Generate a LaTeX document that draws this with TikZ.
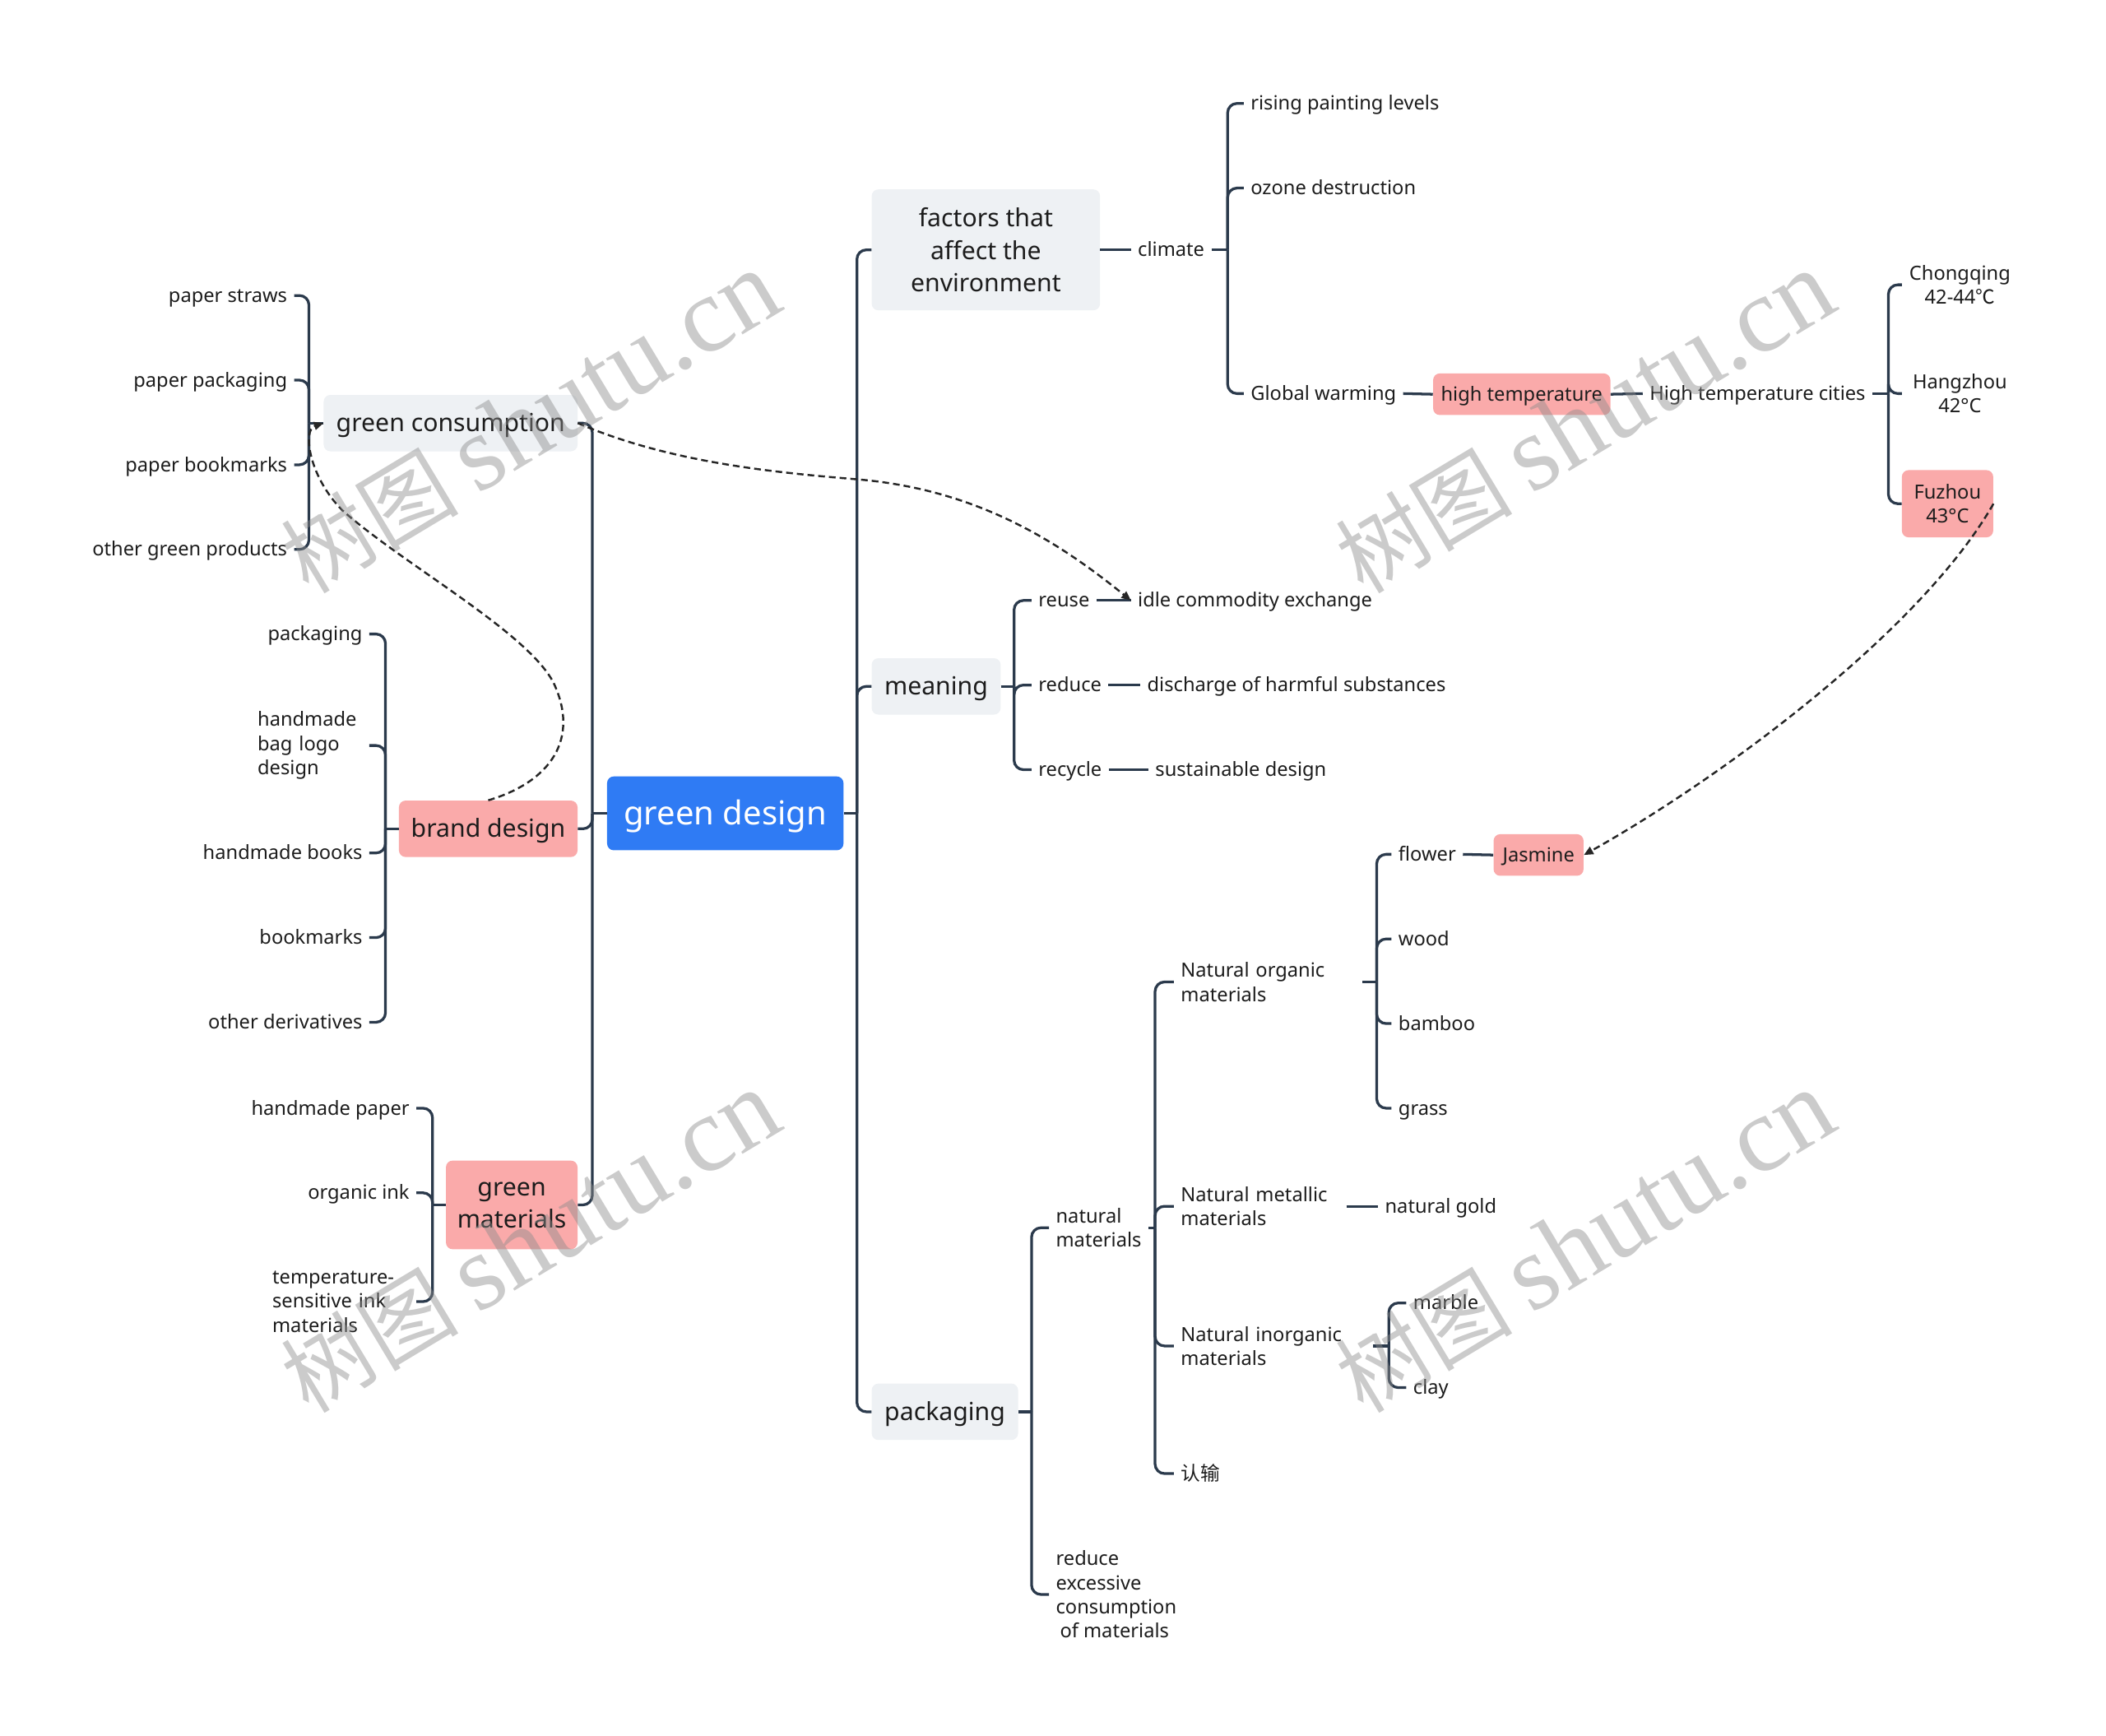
\documentclass[tikz,border=0pt]{standalone}
\usepackage{fontspec}
\setmainfont{Noto Sans}
\newfontfamily\cjk{Noto Sans CJK SC}
\newfontfamily\wmfont{Liberation Serif}
\usetikzlibrary{arrows.meta}
\definecolor{ln}{HTML}{2B3A4C}
\definecolor{txt}{HTML}{1C1C1C}
\definecolor{gbox}{HTML}{EEF1F4}
\definecolor{pbox}{HTML}{FAAAAA}
\definecolor{bbox}{HTML}{2F7BF4}
\definecolor{wm}{HTML}{8C8C8C}
\begin{document}
\begin{tikzpicture}[x=1pt,y=-1pt,
  every node/.style={text=txt},
  lbl/.style={inner xsep=5pt, inner ysep=2pt, font=\fontsize{14.5}{18}\selectfont, text height=12pt, text depth=2pt},
  mlbl/.style={inner xsep=5pt, inner ysep=2pt, font=\fontsize{14.5}{18}\selectfont, align=left},
  clbl/.style={inner xsep=5pt, inner ysep=2pt, font=\fontsize{14.5}{18}\selectfont, align=center, text width=76pt},
  bigbox/.style={rounded corners=5pt, inner sep=0pt, font=\fontsize{18.5}{24}\selectfont},
  graybox/.style={bigbox, fill=gbox},
  pinkbox/.style={bigbox, fill=pbox},
  onebox/.style={text height=15.5pt, text depth=2.5pt},
  smallpink/.style={rounded corners=5pt, fill=pbox, inner sep=0pt, font=\fontsize{14.5}{18}\selectfont},
  conn/.style={draw=ln, line width=2pt, rounded corners=7pt},
  rel/.style={draw=black!85, line width=1.5pt, dash pattern=on 5pt off 3pt, -{Triangle[length=7pt,width=6pt]}},
  wmark/.style={text=wm, text opacity=0.45, rotate=31, inner sep=0pt}
]
\fill[white] (0,0) rectangle (1568,1292);
\useasboundingbox (0,0) rectangle (1568,1292);

% ---------- main boxes
\node[bigbox, fill=bbox, minimum width=176pt, minimum height=55pt, font=\fontsize{24.5}{28}\selectfont, text=white, text height=20pt, text depth=2.8pt] (gd) at (540,605.5) {green design};
\node[graybox, onebox, minimum width=189pt, minimum height=42pt] (gc) at (335.5,315) {green consumption};
\node[pinkbox, onebox, minimum width=133pt, minimum height=42pt] (bd) at (363.5,617) {brand design};
\node[pinkbox, align=center, minimum width=98pt, minimum height=66pt] (gm) at (381,897) {green\\materials};
\node[graybox, align=center, minimum width=170pt, minimum height=90pt] (fac) at (734,186) {factors that\\affect the\\environment};
\node[graybox, onebox, minimum width=96pt, minimum height=42pt] (mea) at (697,511) {meaning};
\node[graybox, onebox, minimum width=109pt, minimum height=42pt] (pkg) at (703.5,1051) {packaging};

% ---------- left children
\node[lbl, anchor=east] (ps) at (219,220) {paper straws};
\node[lbl, anchor=east] (pp) at (219,283) {paper packaging};
\node[lbl, anchor=east] (pb) at (219,346) {paper bookmarks};
\node[lbl, anchor=east] (ogp) at (219,409) {other green products};
\node[lbl, anchor=east] (pk) at (275,472) {packaging};
\node[mlbl, anchor=east, text width=78pt] (hbl) at (275,555) {handmade\\bag logo\\design};
\node[lbl, anchor=east] (hb) at (275,635) {handmade books};
\node[lbl, anchor=east] (bm) at (275,698) {bookmarks};
\node[lbl, anchor=east] (od) at (275,761) {other derivatives};
\node[lbl, anchor=east] (hp) at (310,825) {handmade paper};
\node[lbl, anchor=east] (oi) at (310,888) {organic ink};
\node[mlbl, anchor=east, text width=102pt] (tsi) at (310,969) {temperature-\\sensitive ink\\materials};

% ---------- factors
\node[lbl, anchor=west] (cl) at (842,186) {climate};
\node[lbl, anchor=west] (rpl) at (926,77) {rising painting levels};
\node[lbl, anchor=west] (oz) at (926,140) {ozone destruction};
\node[lbl, anchor=west] (gw) at (926,293) {Global warming};
\node[smallpink, minimum width=132pt, minimum height=31pt, text height=12pt, text depth=2pt] (ht) at (1133,293.5) {high temperature};
\node[lbl, anchor=west] (htc) at (1223,293) {High temperature cities};
\node[clbl, anchor=west] (cq) at (1416,212) {Chongqing\\42-44{\cjk ℃}};
\node[clbl, anchor=west] (hz) at (1416,293) {Hangzhou\\42°C};
\node[smallpink, align=center, minimum width=68pt, minimum height=50pt] (fz) at (1450,375) {Fuzhou\\43°C};

% ---------- meaning
\node[lbl, anchor=west] (reu) at (768,447) {reuse};
\node[lbl, anchor=west] (ice) at (842,447) {idle commodity exchange};
\node[lbl, anchor=west] (red) at (768,510) {reduce};
\node[lbl, anchor=west] (dhs) at (849,510) {discharge of harmful substances};
\node[lbl, anchor=west] (rec) at (768,573) {recycle};
\node[lbl, anchor=west] (sd) at (855,573) {sustainable design};

% ---------- packaging
\node[mlbl, anchor=west] (nm) at (781,914) {natural\\materials};
\node[mlbl, anchor=west] (rex) at (781,1187) {reduce\\excessive\\consumption\\\hspace*{3pt}of materials};
\node[mlbl, anchor=west, text width=130pt] (nom) at (874,731) {Natural organic\\materials};
\node[mlbl, anchor=west, text width=118pt] (nmm) at (874,898) {Natural metallic\\materials};
\node[mlbl, anchor=west, text width=138pt] (nim) at (874,1002) {Natural inorganic\\materials};
\node[lbl, anchor=west, font=\cjk\fontsize{14.5}{18}\selectfont] (rs) at (874,1097) {认输};
\node[lbl, anchor=west] (fl) at (1036,636) {flower};
\node[smallpink, minimum width=67pt, minimum height=31pt, text height=12pt, text depth=2pt] (jas) at (1145.5,636.5) {Jasmine};
\node[lbl, anchor=west] (wd) at (1036,699) {wood};
\node[lbl, anchor=west] (bb) at (1036,762) {bamboo};
\node[lbl, anchor=west] (gr) at (1036,825) {grass};
\node[lbl, anchor=west] (ng) at (1026,898) {natural gold};
\node[lbl, anchor=west] (mb) at (1047,970) {marble};
\node[lbl, anchor=west] (cy) at (1047,1033) {clay};

% ---------- junctions
\coordinate (jL) at (441,605.5);
\coordinate (jR) at (638,605.5);
\coordinate (jgc) at (230,315);
\coordinate (jbd) at (287,617);
\coordinate (jgm) at (322,897);
\coordinate (jcl) at (914,186);
\coordinate (jhtc) at (1406,293);
\coordinate (jme) at (755,511);
\coordinate (jpk) at (768,1051);
\coordinate (jnm) at (860,914);
\coordinate (jnom) at (1025,731);
\coordinate (jnim) at (1034,1002);

% ---------- connectors
\draw[conn] (gd.west) -- (jL);
\foreach \n in {gc,bd,gm} \draw[conn] (jL) |- (\n.east);
\draw[conn] (gd.east) -- (jR);
\foreach \n in {fac,mea,pkg} \draw[conn] (jR) |- (\n.west);

\draw[conn] (gc.west) -- (jgc);
\foreach \n in {ps,pp,pb,ogp} \draw[conn] (jgc) |- (\n.east);
\draw[conn] (bd.west) -- (jbd);
\foreach \n in {pk,hbl,hb,bm,od} \draw[conn] (jbd) |- (\n.east);
\draw[conn] (gm.west) -- (jgm);
\foreach \n in {hp,oi,tsi} \draw[conn] (jgm) |- (\n.east);

\draw[conn] (fac.east) -- (cl.west);
\draw[conn] (cl.east) -- (jcl);
\foreach \n in {rpl,oz,gw} \draw[conn] (jcl) |- (\n.west);
\draw[conn] (gw.east) -- (ht.west);
\draw[conn] (ht.east) -- (htc.west);
\draw[conn] (htc.east) -- (jhtc);
\foreach \n in {cq,hz,fz} \draw[conn] (jhtc) |- (\n.west);

\draw[conn] (mea.east) -- (jme);
\foreach \n in {reu,red,rec} \draw[conn] (jme) |- (\n.west);
\draw[conn] (reu.east) -- (ice.west);
\draw[conn] (red.east) -- (dhs.west);
\draw[conn] (rec.east) -- (sd.west);

\draw[conn] (pkg.east) -- (jpk);
\foreach \n in {nm,rex} \draw[conn] (jpk) |- (\n.west);
\draw[conn] (nm.east) -- (jnm);
\foreach \n in {nom,nmm,nim,rs} \draw[conn] (jnm) |- (\n.west);
\draw[conn] (nom.east) -- (jnom);
\foreach \n in {fl,wd,bb,gr} \draw[conn] (jnom) |- (\n.west);
\draw[conn] (fl.east) -- (jas.west);
\draw[conn] (nmm.east) -- (ng.west);
\draw[conn] (nim.east) -- (jnim);
\foreach \n in {mb,cy} \draw[conn] (jnim) |- (\n.west);

% ---------- dashed relations
\draw[rel] (bd.north) .. controls (410,582) and (432,550) .. (412,508) .. controls (392,470) and (300,420) .. (255,380) .. controls (230,355) and (225,320) .. (gc.west);
\draw[rel] (gc.east) .. controls (500,345) and (580,352) .. (640,357) .. controls (730,365) and (790,405) .. (ice.west);
\draw[rel] (fz.east) .. controls (1430,470) and (1280,580) .. (jas.east);

% ---------- watermarks
\foreach \px/\py in {395/315,1180/315,395/925,1180/925}
  \node[wmark] at (\px,\py) {{\cjk\fontsize{66}{66}\selectfont 树图}\hspace{14pt}{\wmfont\fontsize{80}{80}\selectfont shutu.cn}};
\end{tikzpicture}
\end{document}
